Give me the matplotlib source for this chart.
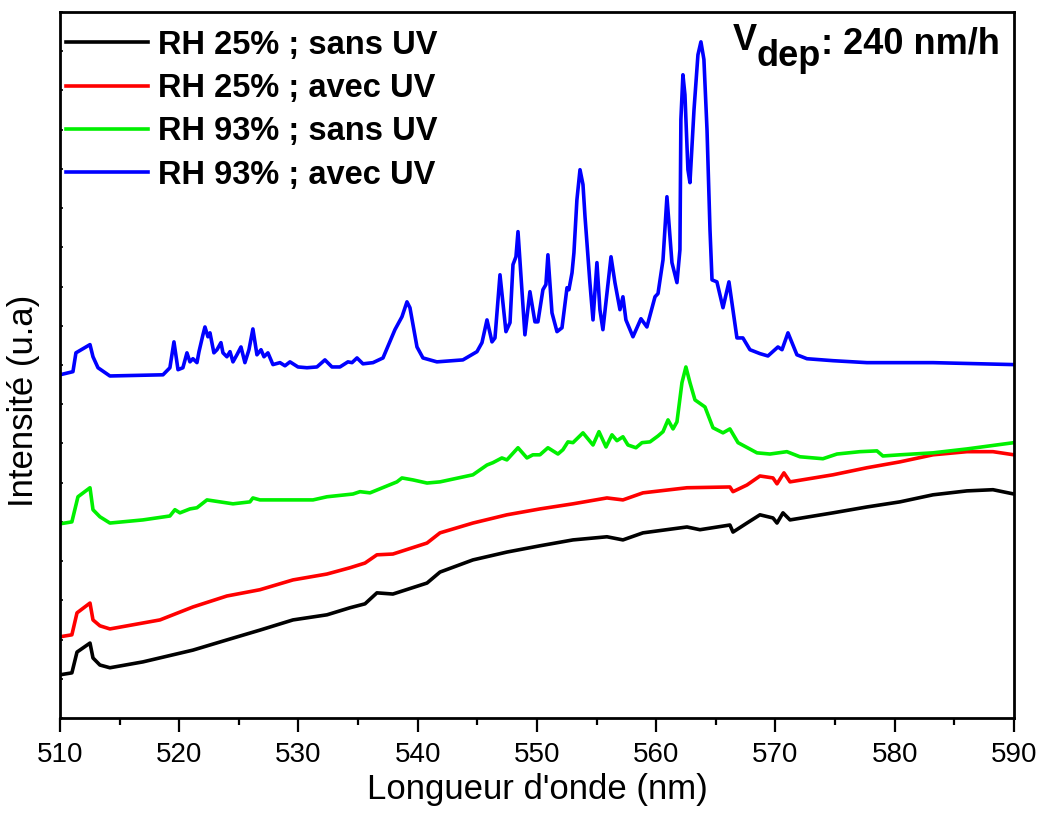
import numpy as np
import matplotlib
matplotlib.use("Agg")
import matplotlib.pyplot as plt
from matplotlib.ticker import MultipleLocator, NullFormatter

plt.rcParams['font.family'] = ['Liberation Sans', 'DejaVu Sans']

# --- donnees (longueur d'onde en nm, intensite en u.a.) ---
wl_25_sans = [510.0, 511.0, 511.43, 512.52, 512.77, 513.35, 514.19, 516.96, 521.15, 524.0,
              526.77, 529.54, 532.39, 534.32, 535.58, 536.58, 537.92, 540.78, 541.87, 544.63,
              547.48, 550.25, 553.02, 555.87, 557.21, 558.89, 562.58, 563.67, 566.18, 566.44,
              567.61, 568.7, 569.79, 570.13, 570.63, 571.22, 574.82, 577.67, 580.44, 583.21,
              586.06, 588.24, 590.0]
int_25_sans = [1.10, 1.15, 1.68, 1.91, 1.53, 1.35, 1.28, 1.43, 1.73, 1.99,
               2.24, 2.50, 2.63, 2.81, 2.91, 3.19, 3.16, 3.44, 3.72, 4.03,
               4.23, 4.39, 4.54, 4.62, 4.54, 4.72, 4.87, 4.80, 4.92, 4.74,
               4.97, 5.18, 5.10, 4.97, 5.23, 5.05, 5.23, 5.38, 5.51, 5.69,
               5.79, 5.82, 5.71]

wl_25_avec = [510.0, 511.0, 511.43, 512.52, 512.77, 513.35, 514.19, 518.39, 521.15, 524.0,
              526.77, 529.54, 532.39, 534.32, 535.58, 536.58, 537.92, 540.78, 541.87, 544.63,
              547.48, 550.25, 553.02, 555.87, 557.21, 558.89, 562.58, 566.18, 566.44, 567.61,
              568.7, 569.79, 570.13, 570.71, 571.22, 574.82, 577.67, 580.44, 583.21, 586.06,
              588.24, 590.0]
int_25_avec = [2.07, 2.12, 2.68, 2.93, 2.50, 2.35, 2.27, 2.50, 2.83, 3.11,
               3.27, 3.52, 3.67, 3.83, 3.95, 4.16, 4.18, 4.46, 4.72, 4.97,
               5.18, 5.33, 5.46, 5.61, 5.56, 5.74, 5.87, 5.89, 5.77, 5.94,
               6.17, 6.12, 5.97, 6.25, 6.02, 6.20, 6.38, 6.53, 6.71, 6.79,
               6.79, 6.71]

wl_93_sans = [510.0, 511.0, 511.51, 512.52, 512.77, 513.35, 514.19, 516.96, 519.22, 519.64,
              520.06, 520.9, 521.49, 522.33, 524.51, 525.93, 526.18, 526.77, 531.22, 532.39,
              534.57, 535.16, 536.0, 538.26, 538.68, 539.6, 540.78, 541.87, 544.63, 545.81,
              546.31, 547.06, 547.48, 548.41, 549.16, 549.66, 550.25, 550.92, 551.76, 552.18,
              552.6, 553.02, 553.86, 554.7, 555.2, 555.79, 556.29, 556.71, 557.21, 557.63,
              558.3, 558.81, 559.48, 560.15, 560.57, 560.99, 561.41, 561.74, 562.16, 562.49,
              562.83, 563.25, 564.09, 564.76, 565.6, 566.18, 566.86, 568.45, 569.54, 570.96,
              572.05, 573.98, 575.16, 577.09, 578.51, 579.01, 580.44, 583.21, 586.06, 590.0]
int_93_sans = [4.95, 5.00, 5.64, 5.87, 5.31, 5.13, 4.97, 5.05, 5.15, 5.31,
               5.23, 5.33, 5.36, 5.56, 5.46, 5.51, 5.61, 5.56, 5.56, 5.64,
               5.71, 5.77, 5.74, 6.02, 6.12, 6.07, 5.99, 6.02, 6.20, 6.45,
               6.51, 6.63, 6.58, 6.89, 6.63, 6.71, 6.71, 6.89, 6.73, 6.84,
               7.04, 7.02, 7.27, 6.96, 7.30, 6.91, 7.22, 7.07, 7.17, 6.96,
               6.89, 7.02, 7.04, 7.19, 7.30, 7.60, 7.37, 7.55, 8.55, 8.95,
               8.55, 8.11, 7.93, 7.40, 7.27, 7.37, 7.02, 6.76, 6.73, 6.79,
               6.66, 6.61, 6.73, 6.79, 6.81, 6.68, 6.71, 6.76, 6.86, 7.02]

wl_93_avec = [510.0, 511.09, 511.34, 512.52, 512.77, 513.19, 514.19, 518.64, 519.22, 519.56,
              519.9, 520.31, 520.65, 520.9, 521.15, 521.49, 521.66, 521.99, 522.16, 522.41,
              522.58, 522.91, 523.17, 523.5, 523.67, 524.0, 524.26, 524.51, 524.84, 525.18,
              525.51, 525.85, 526.18, 526.52, 526.86, 527.11, 527.44, 527.86, 528.45, 528.87,
              529.29, 529.96, 530.71, 531.55, 532.22, 532.81, 533.48, 534.15, 534.49, 534.91,
              535.41, 536.25, 537.09, 538.09, 538.68, 539.1, 539.35, 539.94, 540.44, 541.61,
              543.79, 544.97, 545.39, 545.81, 546.23, 546.48, 546.9, 547.4, 547.74, 547.99,
              548.24, 548.41, 548.57, 548.99, 549.41, 549.83, 550.08, 550.5, 550.75, 550.92,
              551.26, 551.68, 552.1, 552.52, 552.68, 552.94, 553.1, 553.35, 553.61, 553.86,
              554.03, 554.44, 554.7, 555.03, 555.28, 555.53, 556.21, 556.54, 556.96, 557.21,
              557.46, 558.05, 558.72, 559.22, 559.9, 560.15, 560.57, 560.9, 561.32, 561.74,
              561.99, 562.07, 562.24, 562.41, 562.66, 562.83, 563.17, 563.5, 563.75, 564.0,
              564.26, 564.51, 564.68, 565.09, 565.6, 566.1, 566.77, 567.27, 567.86, 568.7,
              569.37, 570.21, 570.55, 571.05, 571.8, 572.64, 574.82, 577.67, 583.21, 590.0]
int_93_avec = [8.75, 8.83, 9.31, 9.52, 9.21, 8.93, 8.72, 8.75, 8.93, 9.59,
               8.88, 8.93, 9.31, 9.08, 9.16, 9.06, 9.34, 9.77, 9.97, 9.72,
               9.82, 9.31, 9.39, 9.57, 9.31, 9.21, 9.34, 9.08, 9.26, 9.46,
               9.06, 9.39, 9.92, 9.26, 9.39, 9.21, 9.31, 9.01, 9.06, 8.98,
               9.08, 8.95, 8.93, 8.95, 9.13, 8.95, 8.95, 9.08, 9.06, 9.18,
               9.03, 9.06, 9.18, 9.90, 10.23, 10.61, 10.46, 9.46, 9.18, 9.08,
               9.13, 9.34, 9.57, 10.15, 9.59, 9.69, 11.30, 9.85, 10.08, 11.56,
               11.76, 12.40, 11.68, 9.77, 10.87, 10.10, 10.10, 10.92, 11.05, 11.81,
               10.33, 9.85, 9.95, 10.97, 10.92, 11.35, 11.86, 13.21, 13.98, 13.60,
               12.78, 11.10, 10.15, 11.61, 10.41, 9.90, 11.76, 11.10, 10.41, 10.74,
               10.15, 9.72, 10.18, 9.97, 10.74, 10.82, 11.68, 13.29, 11.61, 11.10,
               11.94, 15.26, 16.40, 15.89, 13.98, 13.65, 15.51, 16.91, 17.24, 16.79,
               15.00, 12.45, 11.17, 11.12, 10.46, 11.12, 9.69, 9.69, 9.39, 9.29,
               9.23, 9.46, 9.39, 9.82, 9.26, 9.16, 9.11, 9.06, 9.06, 9.01]

labels = ["RH 25% ; sans UV", "RH 25% ; avec UV", "RH 93% ; sans UV", "RH 93% ; avec UV"]
colors = ["black", "red", "#00f000", "blue"]

fig = plt.figure(figsize=(10.39, 8.13), dpi=100)
ax = fig.add_axes([0.0577, 0.1169, 0.9182, 0.8683])

series = [(wl_25_sans, int_25_sans), (wl_25_avec, int_25_avec),
          (wl_93_sans, int_93_sans), (wl_93_avec, int_93_avec)]
for (x, y), c, lab in zip(series, colors, labels):
    ax.plot(x, y, color=c, lw=2.6, label=lab)

ax.set_xlim(510, 590)
ax.set_ylim(0, 18)
ax.xaxis.set_major_locator(MultipleLocator(10))
ax.xaxis.set_minor_locator(MultipleLocator(5))
ax.yaxis.set_major_locator(MultipleLocator(1))
ax.yaxis.set_major_formatter(NullFormatter())

ax.tick_params(axis='x', which='major', direction='out', length=10, width=1.6,
               labelsize=20, pad=7, top=False)
ax.tick_params(axis='x', which='minor', direction='out', length=5, width=1.6, top=False)
ax.tick_params(axis='y', which='major', direction='in', length=2.5, width=1.2, right=False)
for s in ax.spines.values():
    s.set_linewidth(2.0)

ax.set_xlabel("Longueur d'onde (nm)", fontsize=25, labelpad=4)
ax.set_ylabel("Intensité (u.a)", fontsize=25)
ax.yaxis.set_label_coords(-0.021, 0.449)

leg = ax.legend(loc='upper left', bbox_to_anchor=(0.0065, 0.975), frameon=False,
                prop={'weight': 'bold', 'size': 23.5}, handlelength=2.5,
                handletextpad=0.3, labelspacing=0.38, borderaxespad=0, borderpad=0)
for h in leg.get_lines():
    h.set_linewidth(2.6)

# V_dep : indice a la meme taille, decale vers le bas (style Origin)
fig.text(733 / 1039, 1 - 50 / 813, "V", fontsize=26, fontweight='bold',
         ha='left', va='baseline')
fig.text(757 / 1039, 1 - 66 / 813, "dep", fontsize=26, fontweight='bold',
         ha='left', va='baseline')
fig.text(1000 / 1039, 1 - 53 / 813, ": 240 nm/h", fontsize=26, fontweight='bold',
         ha='right', va='baseline')

fig.savefig("out.png", dpi=100)
